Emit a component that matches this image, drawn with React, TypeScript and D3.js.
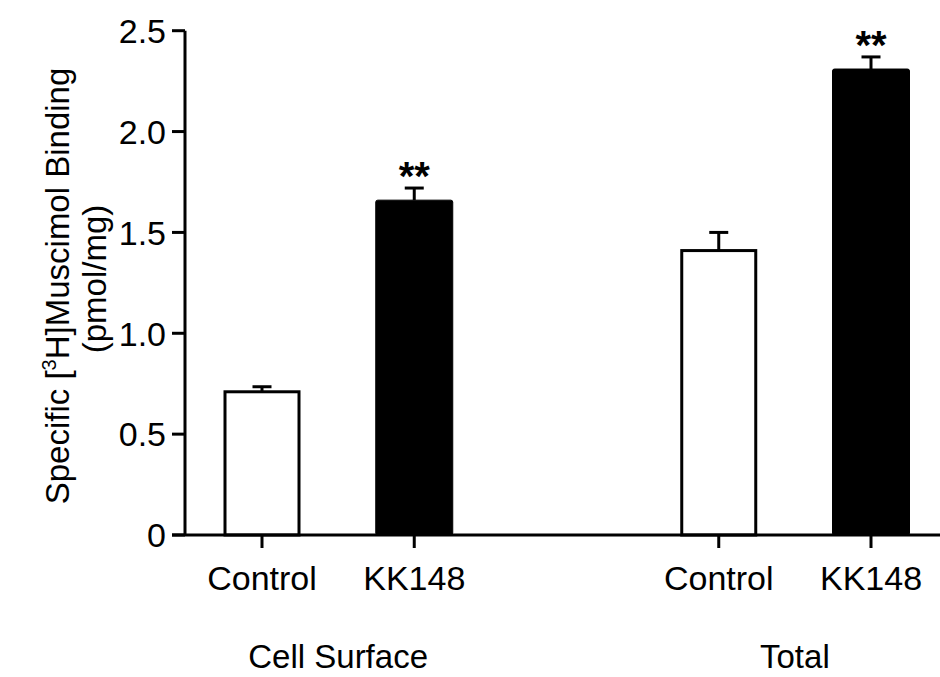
import React from "react";
import * as d3 from "d3";

const groups = ["Cell Surface", "Total"];
const categories = ["Control", "KK148", "Control", "KK148"];
const groupOfBar = [0, 0, 1, 1];
const slotIndex = [0, 1, 3, 4];
const means = [0.71, 1.66, 1.41, 2.31];
const sems = [0.025, 0.06, 0.09, 0.06];
const filled = [false, true, false, true];
const stars = ["", "**", "", "**"];
const yTicks = [0, 0.5, 1.0, 1.5, 2.0, 2.5];
const yTickLabels = ["0", "0.5", "1.0", "1.5", "2.0", "2.5"];

const W = 940;
const H = 677;
const FONT = "'Liberation Sans', Arial, Helvetica, sans-serif";

export default function App() {
  const y = d3.scaleLinear().domain([0, 2.5]).range([535, 30.7]);
  const x = d3.scaleLinear().domain([0, 4]).range([262, 871]);
  const barW = 77;
  const axisX = 185;
  const axisY = y(0);
  const sw = 3;

  return (
    <svg width={W} height={H} style={{ display: "block", position: "absolute", left: 0, top: 0 }}>
      <rect x={0} y={0} width={W} height={H} fill="#fff" />
      {means.map((m, i) => {
        const cx = x(slotIndex[i]);
        const top = y(m);
        const errTop = y(m + sems[i]);
        return (
          <g key={i}>
            <line x1={cx} x2={cx} y1={top} y2={errTop} stroke="#000" strokeWidth={sw} />
            <line x1={cx - 9.5} x2={cx + 9.5} y1={errTop} y2={errTop} stroke="#000" strokeWidth={sw} />
            {filled[i] ? (
              <rect x={cx - barW / 2} y={top} width={barW} height={axisY - top} fill="#000" stroke="#000" strokeWidth={1} rx={2} />
            ) : (
              <rect x={cx - barW / 2 + 1.5} y={top} width={barW - 3} height={axisY - top} fill="#fff" stroke="#000" strokeWidth={sw} />
            )}
            {stars[i] && (
              <text x={cx} y={errTop + 2} textAnchor="middle" fontFamily={FONT} fontWeight="bold" fontSize={40}>
                {stars[i]}
              </text>
            )}
          </g>
        );
      })}
      <line x1={axisX} x2={axisX} y1={y(2.5)} y2={axisY} stroke="#000" strokeWidth={sw} />
      <line x1={172} x2={W} y1={axisY} y2={axisY} stroke="#000" strokeWidth={sw} />
      {yTicks.map((t, i) => (
        <g key={i}>
          <line x1={172} x2={axisX} y1={y(t)} y2={y(t)} stroke="#000" strokeWidth={sw} />
          <text x={166} y={y(t)} dy="0.36em" textAnchor="end" fontFamily={FONT} fontSize={34}>
            {yTickLabels[i]}
          </text>
        </g>
      ))}
      {categories.map((c, i) => (
        <g key={i}>
          <line x1={x(slotIndex[i])} x2={x(slotIndex[i])} y1={axisY} y2={548} stroke="#000" strokeWidth={sw} />
          <text x={x(slotIndex[i])} y={590} textAnchor="middle" fontFamily={FONT} fontSize={34}>
            {c}
          </text>
        </g>
      ))}
      {groups.map((g, gi) => {
        const idx = slotIndex.filter((_, i) => groupOfBar[i] === gi);
        const cx = (x(idx[0]) + x(idx[idx.length - 1])) / 2;
        return (
          <text key={gi} x={cx} y={668} textAnchor="middle" fontFamily={FONT} fontSize={33}>
            {g}
          </text>
        );
      })}
      <g transform={`translate(69, 286) rotate(-90)`}>
        <text x={0} y={0} textAnchor="middle" fontFamily={FONT} fontSize={33}>
          Specific [<tspan fontSize={20} dy={-13}>3</tspan>
          <tspan dy={13}>H]Muscimol Binding</tspan>
        </text>
      </g>
      <g transform={`translate(106, 279) rotate(-90)`}>
        <text x={0} y={0} textAnchor="middle" fontFamily={FONT} fontSize={33}>
          (pmol/mg)
        </text>
      </g>
    </svg>
  );
}
